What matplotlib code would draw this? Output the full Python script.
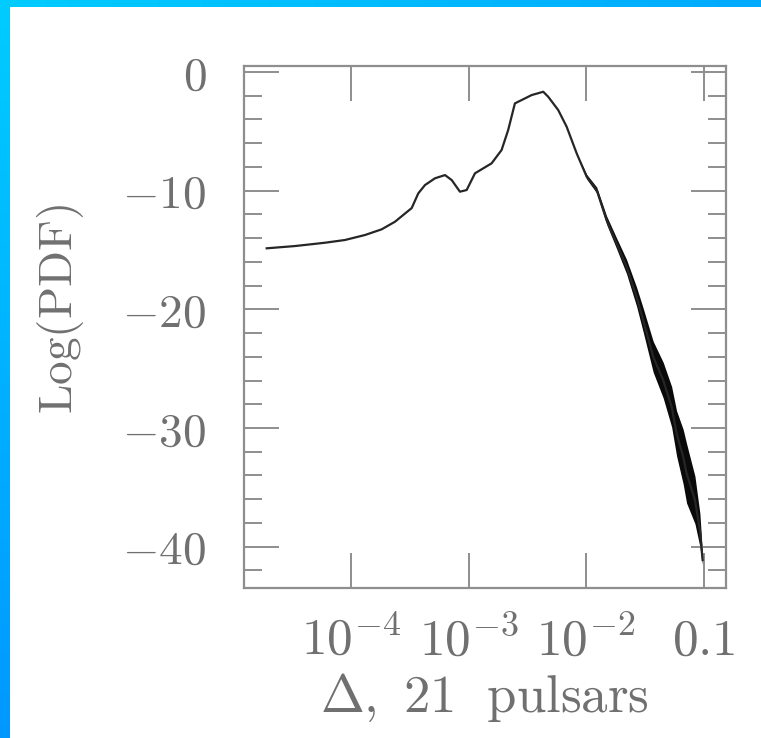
"""Log(PDF) of Delta for 21 pulsars, redrawn from the slide figure."""
import matplotlib

matplotlib.use("Agg")
import matplotlib.pyplot as plt
import numpy as np

# --- curve ------------------------------------------------------------------
DELTA = [1.923e-5, 3.342e-5, 6.012e-5, 8.89e-5, 1.315e-4, 1.824e-4, 2.366e-4,
         3.281e-4, 3.733e-4, 4.256e-4, 5.176e-4, 6.295e-4, 7.178e-4, 8.433e-4,
         9.616e-4, 1.132e-3, 1.567e-3, 1.905e-3, 2.168e-3, 2.472e-3, 2.818e-3,
         3.428e-3, 4.305e-3, 4.742e-3, 5.768e-3, 6.808e-3, 8.279e-3, 1.007e-2,
         1.225e-2, 1.486e-2, 1.807e-2, 2.198e-2, 2.673e-2, 3.041e-2, 3.698e-2,
         4.498e-2, 5.309e-2, 5.848e-2, 6.653e-2, 7.112e-2, 8.375e-2, 9.226e-2,
         9.727e-2]
LOG_PDF = [-14.86, -14.67, -14.39, -14.16, -13.74, -13.26, -12.62,
           -11.47, -10.23, -9.53, -8.96, -8.69, -9.11, -10.09,
           -9.95, -8.54, -7.70, -6.58, -4.89, -2.65, -2.37,
           -1.95, -1.67, -2.09, -3.21, -4.62, -6.86, -8.83,
           -9.95, -12.48, -14.44, -16.41, -18.94, -20.90, -23.99,
           -25.96, -28.21, -30.45, -32.42, -33.82, -36.06, -38.59,
           -41.12]
# half-thickness of the noisy band (statistical scatter at large Delta)
SCATTER = [0] * 27 + [0.2, 0.25, 0.35, 0.45, 0.6, 0.8, 1.0, 1.3,
                      1.5, 1.7, 1.9, 2.3, 2.5, 2.0, 1.4, 0.4]

X_TICKS = [1e-4, 1e-3, 1e-2, 0.1]
X_LABELS = [r"$10^{-4}$", r"$10^{-3}$", r"$10^{-2}$", r"$0.1$"]
Y_TICKS = [0, -10, -20, -30, -40]
Y_LABELS = [r"$0$", r"$-10$", r"$-20$", r"$-30$", r"$-40$"]

GREY = "#8e8e8e"
TXT = "#707070"

plt.rcParams.update({
    "mathtext.fontset": "cm",
    "xtick.direction": "in",
    "ytick.direction": "in",
    "xtick.top": True,
    "ytick.right": True,
})

W, H = 761, 738
fig = plt.figure(figsize=(W / 100, H / 100), dpi=100)
fig.patch.set_facecolor("white")

# blue slide frame: gradient strip on top and on the left
top = fig.add_axes([0, 1 - 7 / H, 1, 7 / H])
top.imshow(np.linspace(0, 1, 256)[None, :], aspect="auto",
           cmap=matplotlib.colors.LinearSegmentedColormap.from_list("t", ["#00ccff", "#00aaff"]))
top.axis("off")
left = fig.add_axes([0, 0, 10 / W, 1])
left.imshow(np.linspace(0, 1, 256)[:, None], aspect="auto",
            cmap=matplotlib.colors.LinearSegmentedColormap.from_list("l", ["#00ccff", "#0098ff"]))
left.axis("off")

ax = fig.add_axes([244 / W, 1 - 588 / H, (726 - 244) / W, (588 - 66) / H])
x = np.array(DELTA)
y = np.array(LOG_PDF)
s = np.array(SCATTER)
ax.fill_between(x, y - s, y + s, color="#0a0a0a", lw=0)
ax.plot(x, y, color="#262626", lw=1.6)

ax.set_xscale("log")
ax.set_xlim(1.233e-5, 0.1538)
ax.set_ylim(-43.48, 0.5)

ax.set_xticks(X_TICKS)
ax.set_xticklabels(X_LABELS)
ax.xaxis.set_minor_locator(matplotlib.ticker.NullLocator())
ax.set_yticks(Y_TICKS)
ax.set_yticklabels(Y_LABELS)
ax.yaxis.set_minor_locator(matplotlib.ticker.MultipleLocator(2))

for sp in ax.spines.values():
    sp.set_color(GREY)
    sp.set_linewidth(1.6)
ax.tick_params(which="major", length=25, width=1.4, color=GREY)
ax.tick_params(which="minor", length=13, width=1.4, color=GREY)
ax.tick_params(axis="x", labelsize=37, labelcolor=TXT, pad=20)
ax.tick_params(axis="y", labelsize=34, labelcolor=TXT, pad=27)

fig.text(61 / W, 1 - 309 / H, r"$\mathrm{Log(PDF)}$", rotation=90,
         ha="center", va="center", fontsize=34, color=TXT)
fig.text(484 / W, 1 - 712 / H, r"$\Delta,\ 21\ \ \mathrm{pulsars}$",
         ha="center", va="baseline", fontsize=38, color=TXT)

fig.savefig("out.png", dpi=100, facecolor="white")
